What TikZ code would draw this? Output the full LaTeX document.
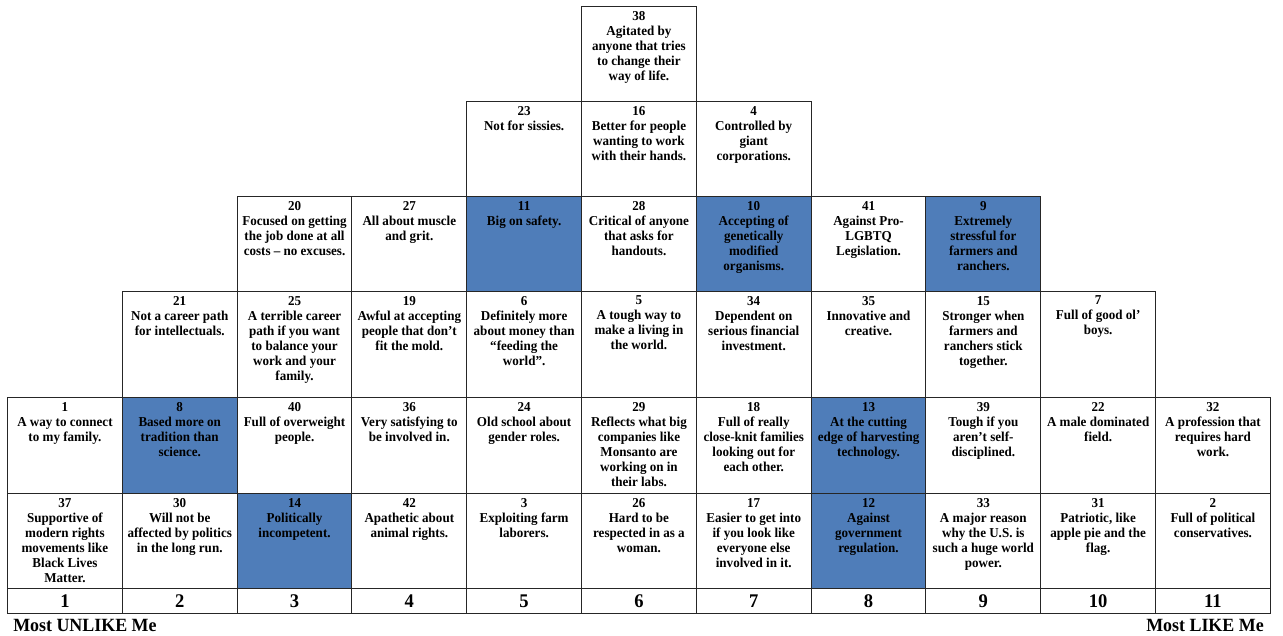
\documentclass[tikz,border=0pt]{standalone}
\usepackage{fontspec}
\setmainfont{Liberation Serif}[FakeStretch=0.96]
\usetikzlibrary{calc}
\definecolor{qblue}{RGB}{79,125,185}

\begin{document}
\begin{tikzpicture}[x=0.75pt, y=-0.75pt,
    cellbox/.style={draw=black!85, line width=0.8pt, anchor=north west, inner sep=0pt, minimum width=86.1pt},
    celltext/.style={anchor=north, align=center, inner sep=0pt, font=\fontsize{10.2}{11.25}\selectfont\bfseries},
    ranktext/.style={font=\fontsize{14.5}{16}\selectfont\bfseries},
    endlabel/.style={inner sep=0pt, font=\fontsize{14}{16}\selectfont\bfseries}]
  \useasboundingbox (0,0) rectangle (1283,636);
  % the sorted statements: column / row / number / text / fill
  \foreach \col/\row/\idx/\txt/\fc in {
      1/1/37/{Supportive of\\modern rights\\movements like\\Black Lives\\Matter.}/white,
      1/2/1/{A way to connect\\to my family.}/white,
      2/1/30/{Will not be\\affected by politics\\in the long run.}/white,
      2/2/8/{Based more on\\tradition than\\science.}/qblue,
      2/3/21/{Not a career path\\for intellectuals.}/white,
      3/1/14/{Politically\\incompetent.}/qblue,
      3/2/40/{Full of overweight\\people.}/white,
      3/3/25/{A terrible career\\path if you want\\to balance your\\work and your\\family.}/white,
      3/4/20/{Focused on getting\\the job done at all\\costs -- no excuses.}/white,
      4/1/42/{Apathetic about\\animal rights.}/white,
      4/2/36/{Very satisfying to\\be involved in.}/white,
      4/3/19/{Awful at accepting\\people that don’t\\fit the mold.}/white,
      4/4/27/{All about muscle\\and grit.}/white,
      5/1/3/{Exploiting farm\\laborers.}/white,
      5/2/24/{Old school about\\gender roles.}/white,
      5/3/6/{Definitely more\\about money than\\“feeding the\\world”.}/white,
      5/4/11/{Big on safety.}/qblue,
      5/5/23/{Not for sissies.}/white,
      6/1/26/{Hard to be\\respected in as a\\woman.}/white,
      6/2/29/{Reflects what big\\companies like\\Monsanto are\\working on in\\their labs.}/white,
      6/3/5/{A tough way to\\make a living in\\the world.}/white,
      6/4/28/{Critical of anyone\\that asks for\\handouts.}/white,
      6/5/16/{Better for people\\wanting to work\\with their hands.}/white,
      6/6/38/{Agitated by\\anyone that tries\\to change their\\way of life.}/white,
      7/1/17/{Easier to get into\\if you look like\\everyone else\\involved in it.}/white,
      7/2/18/{Full of really\\close-knit families\\looking out for\\each other.}/white,
      7/3/34/{Dependent on\\serious financial\\investment.}/white,
      7/4/10/{Accepting of\\genetically\\modified\\organisms.}/qblue,
      7/5/4/{Controlled by\\giant\\corporations.}/white,
      8/1/12/{Against\\government\\regulation.}/qblue,
      8/2/13/{At the cutting\\edge of harvesting\\technology.}/qblue,
      8/3/35/{Innovative and\\creative.}/white,
      8/4/41/{Against Pro-\\LGBTQ\\Legislation.}/white,
      9/1/33/{A major reason\\why the U.S. is\\such a huge world\\power.}/white,
      9/2/39/{Tough if you\\aren’t self-\\disciplined.}/white,
      9/3/15/{Stronger when\\farmers and\\ranchers stick\\together.}/white,
      9/4/9/{Extremely\\stressful for\\farmers and\\ranchers.}/qblue,
      10/1/31/{Patriotic, like\\apple pie and the\\flag.}/white,
      10/2/22/{A male dominated\\field.}/white,
      10/3/7/{Full of good ol’\\boys.}/white,
      11/1/2/{Full of political\\conservatives.}/white,
      11/2/32/{A profession that\\requires hard\\work.}/white}{
    \pgfmathsetmacro\xl{7+(\col-1)*114.8}
    \pgfmathsetmacro\yb{{588,493,397,291,196,101,6}[\row-1]}
    \pgfmathsetmacro\yt{{588,493,397,291,196,101,6}[\row]}
    \node[cellbox, fill=\fc, minimum height={(\yb-\yt)*0.75pt}] (cell\idx) at (\xl,\yt) {};
    \node[celltext] (item\idx) at ([yshift=-3.6pt]cell\idx.north) {\idx\\\txt};
  }
  % rank scale
  \foreach \col in {1,...,11}{
    \pgfmathsetmacro\xl{7+(\col-1)*114.8}
    \node[cellbox, ranktext, minimum height=18.75pt] (rank\col) at (\xl,588) {\col};
  }
  \node[endlabel, anchor=west] (unlike) at (13,625) {Most UNLIKE Me};
  \node[endlabel, anchor=east] (like) at (1264,625) {Most LIKE Me};
\end{tikzpicture}
\end{document}
